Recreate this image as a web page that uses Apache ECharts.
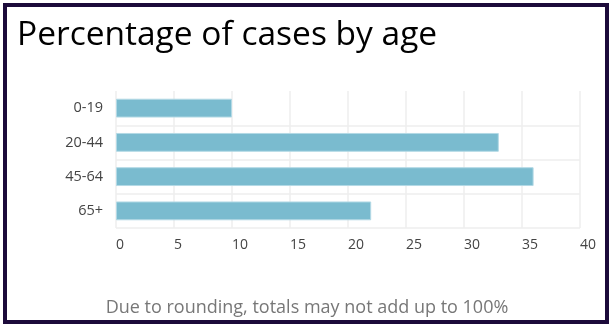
<!DOCTYPE html>
<html>
<head>
<meta charset="utf-8">
<script src="https://cdn.jsdelivr.net/npm/echarts@6/dist/echarts.min.js"></script>
<style>
  html, body { margin: 0; padding: 0; background: #fff; }
  #chart { width: 614px; height: 332px; }
</style>
</head>
<body>
<div id="chart"></div>
<script>
// Age groups and share of cases (%)
const ageGroups = ['0-19', '20-44', '45-64', '65+'];
const caseShare = [10, 33, 36, 22];
const xTicks = [0, 5, 10, 15, 20, 25, 30, 35, 40];

const chart = echarts.init(document.getElementById('chart'), null, { renderer: 'canvas' });
const font = 'Open Sans';

chart.setOption({
  animation: false,
  backgroundColor: '#ffffff',
  title: [
    {
      text: 'Percentage of cases by age',
      left: 12,
      top: 13,
      textStyle: { fontFamily: font, fontSize: 33.5, fontWeight: 'normal', color: '#000000' }
    },
    {
      text: 'Due to rounding, totals may not add up to 100%',
      left: 'center',
      top: 294,
      textStyle: { fontFamily: font, fontSize: 18, fontWeight: 'normal', color: '#777777' }
    }
  ],
  grid: { left: 116, right: 34, top: 91, bottom: 104 },
  xAxis: {
    type: 'value',
    min: xTicks[0],
    max: xTicks[xTicks.length - 1],
    interval: 5,
    axisLine: { show: false },
    axisTick: { show: false },
    axisLabel: { align: 'left', margin: 10, fontFamily: font, fontSize: 14, color: '#444444' },
    splitLine: { lineStyle: { color: '#eeeeee', width: 1.5 } }
  },
  yAxis: {
    type: 'category',
    data: ageGroups,
    inverse: true,
    axisLine: { show: false },
    axisTick: { show: false },
    axisLabel: { margin: 13, fontFamily: font, fontSize: 14.5, color: '#444444' },
    splitLine: { show: true, lineStyle: { color: ['rgba(0,0,0,0)', '#eeeeee', '#eeeeee', '#eeeeee', '#eeeeee'], width: 1.5 } }
  },
  series: [{
    type: 'bar',
    data: caseShare,
    barCategoryGap: '45%',
    itemStyle: { color: '#7abbcf', borderColor: '#b3d9e5', borderWidth: 1 }
  }],
  graphic: [{
    type: 'rect',
    z: 100,
    shape: { x: 5, y: 5, width: 602, height: 317 },
    style: { fill: null, stroke: '#1c0a3a', lineWidth: 4 },
    silent: true
  }]
});
</script>
</body>
</html>
